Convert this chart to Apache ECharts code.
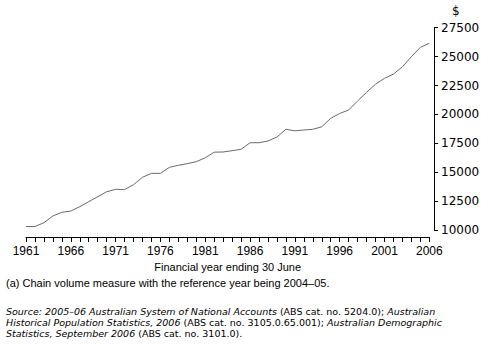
<!DOCTYPE html>
<html>
<head>
<meta charset="utf-8">
<script src="https://cdn.jsdelivr.net/npm/echarts@6/dist/echarts.min.js"></script>
<style>
html,body{margin:0;padding:0;background:#fff;}
#chart{width:499px;height:353px;}
</style>
</head>
<body>
<div id="chart"></div>
<script>
var years = ['1961','1962','1963','1964','1965','1966','1967','1968','1969','1970',
  '1971','1972','1973','1974','1975','1976','1977','1978','1979','1980',
  '1981','1982','1983','1984','1985','1986','1987','1988','1989','1990',
  '1991','1992','1993','1994','1995','1996','1997','1998','1999','2000',
  '2001','2002','2003','2004','2005','2006'];
var gdpPerCapita = [10300,10300,10630,11210,11530,11640,12020,12450,12880,13310,
  13520,13490,13920,14560,14900,14900,15420,15600,15740,15910,
  16250,16730,16750,16860,16980,17550,17550,17700,18040,18710,
  18580,18650,18710,18930,19660,20080,20380,21160,21910,22610,
  23120,23490,24120,24990,25800,26150];
var yMin = 10000, yMax = 27500, yStep = 2500;
var xTitle = 'Financial year ending 30 June';
var unitLabel = '$';
var footnote = '(a) Chain volume measure with the reference year being 2004\u201305.';
var sourceText =
  '{i|Source: 2005\u201306 Australian System of National Accounts }{n|(ABS cat. no. 5204.0); }{i|Australian}\n' +
  '{i|Historical Population Statistics, 2006 }{n|(ABS cat. no. 3105.0.65.001); }{i|Australian Demographic}\n' +
  '{i|Statistics, September 2006 }{n|(ABS cat. no. 3101.0).}';

var chart = echarts.init(document.getElementById('chart'), null, {renderer: 'svg'});
var baseFont = 'Liberation Sans, Arial, sans-serif';
var srcFont = 'DejaVu Sans, sans-serif';
var srcRich = {
  i: {fontStyle: 'italic', fontSize: 9.5, fontFamily: srcFont, fill: '#000', lineHeight: 11},
  n: {fontSize: 9.5, fontFamily: srcFont, fill: '#000', lineHeight: 11}
};
chart.setOption({
  animation: false,
  backgroundColor: '#ffffff',
  grid: {left: 26, right: 69.7, top: 27.7, bottom: 123, containLabel: false},
  xAxis: {
    type: 'category',
    data: years,
    boundaryGap: false,
    offset: 7,
    axisLine: {show: true, lineStyle: {color: '#000', width: 1}},
    axisTick: {show: true, interval: 0, length: 5, lineStyle: {color: '#000', width: 1}},
    axisLabel: {interval: 4, color: '#000', fontSize: 12, fontFamily: baseFont, margin: 8},
    splitLine: {show: false},
    name: xTitle,
    nameLocation: 'middle',
    nameGap: 22,
    nameTextStyle: {color: '#000', fontSize: 11, fontFamily: baseFont}
  },
  yAxis: {
    type: 'value',
    position: 'right',
    min: yMin, max: yMax, interval: yStep,
    offset: 4.7,
    axisLine: {show: true, lineStyle: {color: '#000', width: 1}},
    axisTick: {show: true, length: 4, lineStyle: {color: '#000', width: 1}},
    axisLabel: {color: '#000', fontSize: 12, fontFamily: 'DejaVu Sans, sans-serif', margin: 7,
      formatter: function (v) { return String(v); }},
    splitLine: {show: false}
  },
  series: [{
    type: 'line',
    data: gdpPerCapita,
    symbol: 'none',
    lineStyle: {color: '#6a6a6a', width: 1}
  }],
  graphic: [
    {type: 'text', left: 452, top: 5, style: {text: unitLabel, fill: '#000', font: '12px DejaVu Sans, sans-serif'}},
    {type: 'text', x: 6, y: 282.7, style: {text: footnote, fill: '#000', font: '11px Liberation Sans, Arial, sans-serif', verticalAlign: 'middle'}},
    {type: 'text', x: 6, y: 306.2, style: {text: sourceText, verticalAlign: 'top', rich: srcRich}}
  ]
});
</script>
</body>
</html>
